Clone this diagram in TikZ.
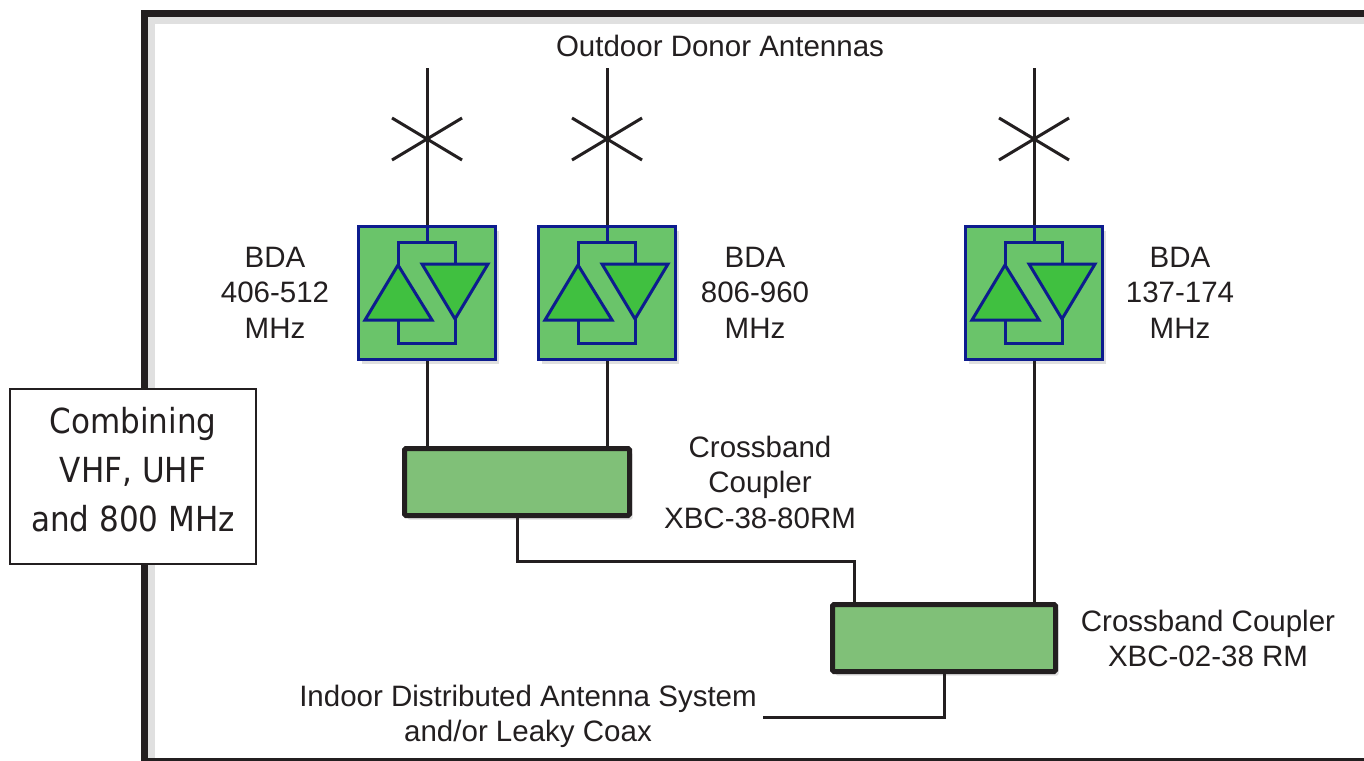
\documentclass[tikz,border=0pt]{standalone}
\usepackage{fontspec}
\setmainfont{Liberation Sans}
\newfontfamily\combfont{DejaVu Sans Condensed}
\usetikzlibrary{shadows}
\definecolor{ink}{HTML}{231F20}
\definecolor{navy}{HTML}{0D1C8E}
\definecolor{bdafill}{HTML}{6AC46A}
\definecolor{ampfill}{HTML}{40C040}
\definecolor{cplfill}{HTML}{80C078}
\begin{document}
\begin{tikzpicture}[x=1pt,y=-1pt,
  wire/.style={draw=ink, line width=3pt},
  ampline/.style={draw=navy, line width=3pt, line join=miter},
  softshadow/.style={drop shadow={opacity=0.25, shadow xshift=3pt, shadow yshift=-4pt}},
  bdabox/.style={draw=navy, fill=bdafill, line width=3pt, minimum width=137pt,
    minimum height=133pt, inner sep=0pt, softshadow},
  cplbox/.style={draw=ink, fill=cplfill, line width=5pt, rounded corners=1.5pt,
    minimum height=67pt, inner sep=0pt, softshadow},
  lbl/.style={text=ink, align=center, inner sep=0pt,
    font=\fontsize{29.5}{35.5}\selectfont},
  combbox/.style={draw=ink, fill=white, line width=2pt, minimum width=246pt,
    minimum height=175pt, inner sep=0pt},
  combtext/.style={align=center, text=ink, inner sep=0pt,
    font=\combfont\fontsize{34.5}{49}\selectfont},
  amp/.pic={
    \draw[ampline] (0,-68) -- (0,-51);
    \draw[ampline] (-29,-28) -- (-29,-51) -- (28,-51) -- (28,-29);
    \draw[ampline, fill=ampfill] (-29,-28) -- (5,27) -- (-62,27) -- cycle;
    \draw[ampline, fill=ampfill] (-5,-29) -- (61,-29) -- (28,26) -- cycle;
    \draw[ampline] (-29,27) -- (-29,50) -- (28,50) -- (28,26);
  }
]
\clip (0,0) rectangle (1364,760);
\fill[white] (0,0) rectangle (1364,760);

% frame with soft inner shadow
\draw[black!12, line width=7pt] (151,1000) -- (151,20.5) -- (1400,20.5);
\draw[ink, line width=7pt] (144.5,1000) -- (144.5,13.5) -- (1400,13.5);
\draw[ink, line width=7pt] (144.5,761) -- (1400,761);

% antennas
\coordinate (a1) at (427,139);
\coordinate (a2) at (607,139);
\coordinate (a3) at (1034,139);
\coordinate (a1top) at (427,68);
\coordinate (a2top) at (607,68);
\coordinate (a3top) at (1034,68);

% BDA boxes
\node[bdabox] (b1) at (427,293) {};
\node[bdabox] (b2) at (607,293) {};
\node[bdabox] (b3) at (1034,293) {};
\pic at (b1.center) {amp};
\pic at (b2.center) {amp};
\pic at (b3.center) {amp};

% couplers
\node[cplbox, minimum width=225pt] (c1) at (517,482) {};
\node[cplbox, minimum width=223pt] (c2) at (944,638) {};

% combining box
\node[combbox] (comb) at (133,476.5) {};
\node[combtext] (combt) at (133,470) {Combining\\VHF, UHF\\and 800 MHz};

% antenna masts and elements
\foreach \a/\b in {a1/b1,a2/b2,a3/b3}{
  \draw[wire] (\a top) -- (\b.north);
  \draw[wire] ([shift={(-35,-21)}]\a) -- ([shift={(35,21)}]\a);
  \draw[wire] ([shift={(-35,21)}]\a) -- ([shift={(35,-21)}]\a);
}

% connectors
\coordinate (indoor) at (763,717);
\draw[wire] (b1.south) -- (b1.south |- c1.north);
\draw[wire] (b2.south) -- (b2.south |- c1.north);
\draw[wire] (b3.south) -- (b3.south |- c2.north);
\draw[wire, line join=miter] (c1.south) -- ++(0,43) -| ([xshift=-90pt]c2.north);
\draw[wire, line join=miter] (c2.south) |- (indoor);

% labels
\node[lbl] (tOut) at (720,46) {Outdoor Donor Antennas};
\node[lbl] (tB1) at (275,292.5) {BDA\\406-512\\MHz};
\node[lbl] (tB2) at (755,292.5) {BDA\\806-960\\MHz};
\node[lbl] (tB3) at (1180,292.5) {BDA\\137-174\\MHz};
\node[lbl] (tC1) at (760,482) {Crossband\\Coupler\\XBC-38-80RM};
\node[lbl] (tC2) at (1208,638.5) {Crossband Coupler\\XBC-02-38 RM};
\node[lbl] (tIn) at (528,716.5) {Indoor Distributed Antenna System\\and/or Leaky Coax};
\end{tikzpicture}
\end{document}
